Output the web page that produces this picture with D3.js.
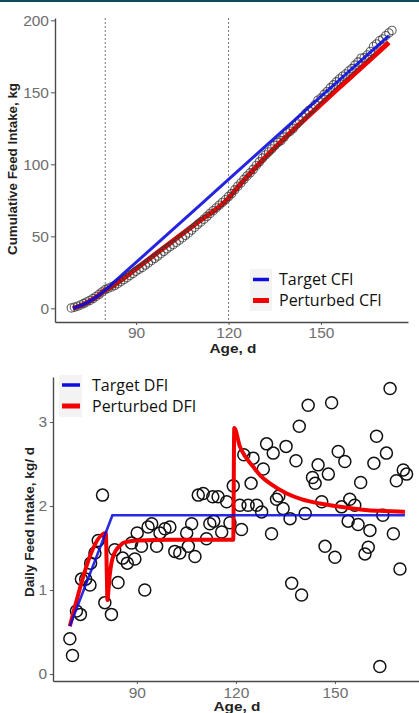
<!DOCTYPE html>
<html><head><meta charset="utf-8">
<script src="https://cdn.jsdelivr.net/npm/d3@7/dist/d3.min.js"></script>
<style>
body{margin:0;background:#fff;}
svg{display:block;}
.tick text{font-family:"Liberation Sans",Arial,sans-serif;font-size:15.5px;fill:#6e6e6e;}
.tick line{stroke:#555;}
.domain{stroke:#4a4a4a;stroke-width:1.4;}
.ttl{font-family:"Liberation Sans",Arial,sans-serif;font-weight:bold;font-size:13px;fill:#222;}
.leg{font-family:"Open Sans",sans-serif;font-size:16px;fill:#111;}
</style></head>
<body>
<svg id="c" width="419" height="713"></svg>
<script>
// ---------- DATA ----------
const xTicks = [90, 120, 150];
const cfiTicks = [0, 50, 100, 150, 200];
const dfiTicks = [0, 1, 2, 3];
const phaseDays = [80, 120];

// Observed cumulative feed intake (kg), one per day starting at day 69
const cfiStartDay = 69;
const cfiObserved = [0.3,0.8,1.5,2.3,3.3,4.4,5.5,6.8,8.2,9.7,11.4,13.0,14.0,14.8,15.8,17.1,18.5,19.9,21.3,22.8,
 24.2,25.8,27.2,28.4,30.0,31.6,33.2,34.7,36.3,37.9,39.6,41.3,42.8,44.2,45.7,47.3,49.0,50.7,52.3,54.3,
 56.3,58.3,60.0,61.9,63.9,65.9,67.8,69.7,71.6,73.5,75.4,77.6,79.7,82.3,84.8,87.1,89.6,91.9,94.1,96.5,
 99.2,101.7,104.3,106.5,108.6,110.7,113.2,115.2,116.5,118.9,121.8,123.0,125.0,128.0,130.4,132.7,135.2,137.3,138.9,141.3,
 144.5,146.0,148.6,150.6,153.1,155.2,157.3,159.3,161.2,162.7,164.8,166.5,168.9,171.0,173.7,174.0,175.9,178.4,181.8,183.6,
 185.8,187.1,189.3,191.2,193.0];

// Target CFI line [day, kg]
const targetCFI = [[69.5,0],[72,1.8],[75,5],[78,9.3],[80,12.7],[83,18.5],[90,31.9],[120,89.5],[150,147.1],[172,189.4]];
// Perturbed CFI line [day, kg]
const perturbedCFI = [[69.5,0],[72,1.8],[75,5],[78,9.3],[80,12.7],[81,13.6],[83,16.2],[86,20.9],[90,27.4],[100,43.6],
 [110,59.8],[120,76.5],[122,81.6],[125,89],[130,100.6],[135,111.4],[140,121.8],[145,131.9],[150,141.8],[155,151.6],
 [160,161.3],[165,171],[172,184.6]];

// Observed daily feed intake [day, kg/d]
const dfiObserved = [[69.7,0.42],[70.5,0.22],[71.7,0.75],[72.9,0.71],[73.2,1.13],[74.5,1.13],[75.8,1.06],[76,1.32],[77.3,1.44],[78.3,1.59],
 [79.6,2.13],[80.3,0.85],[82.3,0.71],[84.3,1.09],[83.3,1.48],[85.7,1.38],[87.1,1.32],[89.4,1.37],[88.4,1.56],[90.1,1.68],
 [92.4,1.0],[91.4,1.52],[93.4,1.75],[94.5,1.79],[96,1.52],[97,1.68],[98.5,1.73],[100,1.75],[101.5,1.46],[103,1.44],
 [105.1,1.68],[106.6,1.79],[105.6,1.52],[107.6,1.40],[111.1,1.61],[112.1,1.79],[113.3,1.82],[115.7,1.69],[118.2,1.80],
 [108.6,2.13],[110.1,2.15],[113,2.11],[114.6,2.11],[117.2,2.05],[119.2,2.24],
 [121.2,2.01],[123.7,2.01],[124.6,2.27],[126.3,2.01],[127.8,1.93],[121.7,1.72],[130.8,1.67],[132.3,2.08],[133,2.12],[134.3,1.97],
 [136.4,1.85],[141,1.91],[146,2.05],[147,1.52],[150,1.39],[152,1.99],[154,1.82],[154.5,2.08],[156,2.01],[157,1.78],
 [159.1,1.43],[160.1,1.51],[160.6,1.71],[164.5,1.89],[167.7,1.67],[169.7,1.25],[136.9,1.08],[139.9,0.94],[163.6,0.09],
 [166.7,3.40],[141.9,3.20],[149,3.23],[139.2,2.95],[162.6,2.83],[129.3,2.74],[131.3,2.63],[135.2,2.71],[122.4,2.61],[125.2,2.57],
 [128.3,2.44],[138.2,2.54],[151,2.65],[153,2.53],[165.6,2.63],[161.8,2.51],[144.9,2.49],[148,2.38],[143.2,2.34],[144,2.27],
 [157.8,2.28],[168.6,2.30],[170.7,2.43],[171.7,2.38]];

// Target DFI line
const targetDFI = [[69.7,0.57],[82.6,1.89],[171.2,1.89]];
// Perturbed DFI line
const perturbedDFI = [[69.7,0.57],[80.6,1.68],[80.9,1.2],[81.1,0.88],[81.4,1.0],[81.8,1.18],[82.3,1.32],[83,1.42],[83.8,1.48],[85,1.53],
 [85.8,1.56],[88,1.58],[90.9,1.59],[100,1.6],[110,1.6],[119.2,1.6],[119.5,2.93],[121.2,2.71],[123,2.58],[125.2,2.47],
 [127.5,2.36],[130.3,2.27],[135.4,2.15],[140,2.08],[145.5,2.03],[150,2.0],[155.5,1.97],[160,1.95],[165,1.94],[171.2,1.93]];

const legendTop = ["Target CFI", "Perturbed CFI"];
const legendBottom = ["Target DFI", "Perturbed DFI"];

// ---------- DRAW ----------
const BLUE = "#0c0cde", RED = "#f20000";
const svg = d3.select("#c");
svg.append("rect").attr("x",0).attr("y",0).attr("width",419).attr("height",2).attr("fill","#114a58");

// ---- Top panel ----
const x1 = d3.scaleLinear().domain([63.7,178.2]).range([55,408]);
const y1 = d3.scaleLinear().domain([-9.5,201.6]).range([322,18]);
const g1 = svg.append("g");

g1.selectAll("line.ph").data(phaseDays).join("line")
  .attr("x1",d=>x1(d)).attr("x2",d=>x1(d)).attr("y1",18).attr("y2",322)
  .attr("stroke","#777").attr("stroke-width",1).attr("stroke-dasharray","2,2");

const line1 = d3.line().x(d=>x1(d[0])).y(d=>y1(d[1])).curve(d3.curveMonotoneX);
g1.append("path").datum(perturbedCFI).attr("d",line1).attr("fill","none")
  .attr("stroke",RED).attr("stroke-width",5);
g1.selectAll("circle").data(cfiObserved).join("circle")
  .attr("cx",(d,i)=>x1(cfiStartDay+i)).attr("cy",d=>y1(d)).attr("r",4.2)
  .attr("fill","none").attr("stroke","#3a3a3a").attr("stroke-opacity",0.8).attr("stroke-width",1.1);
g1.append("path").datum(targetCFI).attr("d",line1).attr("fill","none")
  .attr("stroke",BLUE).attr("stroke-width",3).attr("stroke-opacity",0.9);

g1.append("g").attr("transform","translate(55,0)")
  .call(d3.axisLeft(y1).tickValues(cfiTicks).tickSize(4).tickSizeOuter(0).tickPadding(2));
g1.append("g").attr("transform","translate(0,322)")
  .call(d3.axisBottom(x1).tickValues(xTicks).tickSize(3).tickSizeOuter(0).tickPadding(2));

g1.append("text").attr("class","ttl").attr("text-anchor","middle")
  .attr("transform","translate(17,169) rotate(-90)")
  .attr("textLength",172).attr("lengthAdjust","spacingAndGlyphs")
  .text("Cumulative Feed Intake, kg");
g1.append("text").attr("class","ttl").attr("text-anchor","middle").attr("x",233).attr("y",353)
  .attr("textLength",47).attr("lengthAdjust","spacingAndGlyphs").text("Age, d");

const lg1 = g1.append("g");
lg1.selectAll("rect.k").data(legendTop).join("rect")
  .attr("x",250).attr("y",(d,i)=>269+i*21).attr("width",22).attr("height",21).attr("fill","#f3f3f3");
lg1.selectAll("line.k").data(legendTop).join("line")
  .attr("x1",253).attr("x2",269).attr("y1",(d,i)=>279.5+i*21).attr("y2",(d,i)=>279.5+i*21)
  .attr("stroke",(d,i)=>i?RED:BLUE).attr("stroke-width",(d,i)=>i?5:3.5);
lg1.selectAll("text").data(legendTop).join("text").attr("class","leg")
  .attr("x",279).attr("y",(d,i)=>285+i*21).text(d=>d);

// ---- Bottom panel ----
const x2 = d3.scaleLinear().domain([64.6,179.1]).range([53,431]);
const y2 = d3.scaleLinear().domain([-0.083,3.536]).range([681,377]);
const g2 = svg.append("g");
const line2 = d3.line().x(d=>x2(d[0])).y(d=>y2(d[1])).curve(d3.curveMonotoneX);

g2.selectAll("circle").data(dfiObserved).join("circle")
  .attr("cx",d=>x2(d[0])).attr("cy",d=>y2(d[1])).attr("r",6)
  .attr("fill","none").attr("stroke","#111").attr("stroke-width",1.5);
g2.append("path").datum(perturbedDFI).attr("d",line2).attr("fill","none")
  .attr("stroke",RED).attr("stroke-width",4).attr("stroke-linejoin","round");
g2.append("path").datum(targetDFI).attr("d",d3.line().x(d=>x2(d[0])).y(d=>y2(d[1]))).attr("fill","none")
  .attr("stroke",BLUE).attr("stroke-width",2.6).attr("stroke-opacity",0.88);

g2.append("g").attr("transform","translate(53,0)")
  .call(d3.axisLeft(y2).tickValues(dfiTicks).tickFormat(d3.format("d")).tickSize(3).tickSizeOuter(0).tickPadding(3));
g2.append("g").attr("transform","translate(0,681)")
  .call(d3.axisBottom(x2).tickValues(xTicks).tickSize(3).tickSizeOuter(0).tickPadding(3));

g2.append("text").attr("class","ttl").attr("text-anchor","middle")
  .attr("transform","translate(34,522) rotate(-90)")
  .attr("textLength",150).attr("lengthAdjust","spacingAndGlyphs")
  .text("Daily Feed Intake, kg/ d");
g2.append("text").attr("class","ttl").attr("text-anchor","middle").attr("x",237).attr("y",711)
  .attr("textLength",47).attr("lengthAdjust","spacingAndGlyphs").text("Age, d");

const lg2 = g2.append("g");
lg2.selectAll("rect.k").data(legendBottom).join("rect")
  .attr("x",59).attr("y",(d,i)=>375+i*21).attr("width",23).attr("height",21).attr("fill","#f3f3f3");
lg2.selectAll("line.k").data(legendBottom).join("line")
  .attr("x1",62).attr("x2",80).attr("y1",(d,i)=>385+i*21).attr("y2",(d,i)=>385+i*21)
  .attr("stroke",(d,i)=>i?RED:BLUE).attr("stroke-width",(d,i)=>i?5:3.5);
lg2.selectAll("text").data(legendBottom).join("text").attr("class","leg")
  .attr("x",92).attr("y",(d,i)=>391+i*21).text(d=>d);
</script>
</body></html>
